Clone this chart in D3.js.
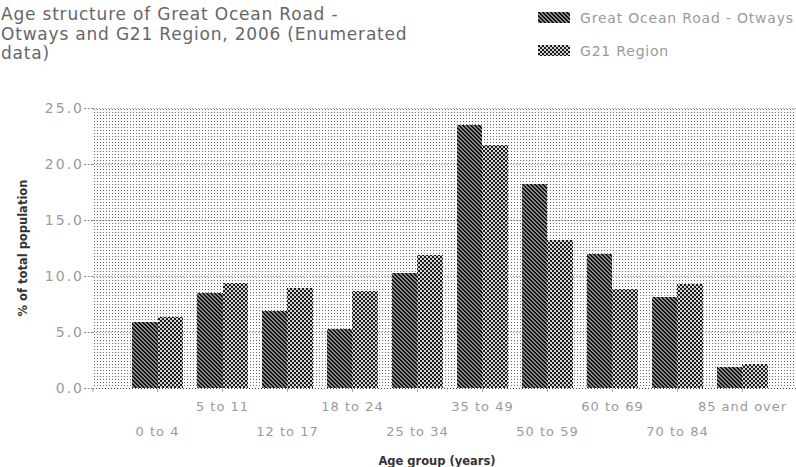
<!DOCTYPE html>
<html>
<head>
<meta charset="utf-8">
<script src="https://cdn.jsdelivr.net/npm/d3@7"></script>
<style>
  html, body { margin: 0; padding: 0; background: #fff; }
  svg { display: block; }
  text { font-family: "DejaVu Sans", Verdana, sans-serif; }
</style>
</head>
<body>
<svg id="chart" width="796" height="467"></svg>
<script>
// Age groups (x categories) and the share of total population in each
const categories = ["0 to 4", "5 to 11", "12 to 17", "18 to 24", "25 to 34",
                    "35 to 49", "50 to 59", "60 to 69", "70 to 84", "85 and over"];
const otways = [5.9, 8.5, 6.9, 5.3, 10.3, 23.5, 18.2, 12.0, 8.1, 1.9];
const g21    = [6.3, 9.4, 8.9, 8.7, 11.9, 21.7, 13.2, 8.8, 9.3, 2.1];
const seriesNames = ["Great Ocean Road - Otways", "G21 Region"];
const yTicks = [0, 5, 10, 15, 20, 25];
const titleLines = ["Age structure of Great Ocean Road -",
                    "Otways and G21 Region, 2006 (Enumerated",
                    "data)"];

const svg = d3.select("#chart");
const defs = svg.append("defs");

// Halftone-style fills
const bgPat = defs.append("pattern").attr("id", "bgDots")
  .attr("patternUnits", "userSpaceOnUse").attr("width", 3).attr("height", 3);
bgPat.append("rect").attr("width", 3).attr("height", 3).attr("fill", "#fbfbfb");
bgPat.append("rect").attr("x", 1).attr("y", 1).attr("width", 1).attr("height", 1).attr("fill", "#6a6a6a");

const hatch = defs.append("pattern").attr("id", "hatch")
  .attr("patternUnits", "userSpaceOnUse").attr("width", 4).attr("height", 4);
hatch.append("rect").attr("width", 4).attr("height", 4).attr("fill", "#8c8c8c");
[[0,0],[1,1],[2,2],[3,3],[1,0],[2,1],[3,2],[0,3]].forEach(([x, y]) =>
  hatch.append("rect").attr("x", x).attr("y", y).attr("width", 1).attr("height", 1).attr("fill", "#111"));

const checker = defs.append("pattern").attr("id", "checker")
  .attr("patternUnits", "userSpaceOnUse").attr("width", 4).attr("height", 4);
checker.append("rect").attr("width", 4).attr("height", 4).attr("fill", "#d6d6d6");
checker.append("rect").attr("x", 0).attr("y", 0).attr("width", 2).attr("height", 2).attr("fill", "#1a1a1a");
checker.append("rect").attr("x", 2).attr("y", 2).attr("width", 2).attr("height", 2).attr("fill", "#1a1a1a");

const fills = ["url(#hatch)", "url(#checker)"];

// Plot geometry
const plot = { left: 93, right: 796, top: 108, bottom: 388 };

const x = d3.scaleBand()
  .domain(categories)
  .range([125, 775])
  .paddingInner(0.215)
  .paddingOuter(0.1075);
const xSub = d3.scaleBand()
  .domain([0, 1])
  .range([0, x.bandwidth()]);
const y = d3.scaleLinear().domain([0, 25]).range([plot.bottom, plot.top]);

// Plot background
svg.append("rect")
  .attr("x", plot.left).attr("y", plot.top)
  .attr("width", plot.right - plot.left).attr("height", plot.bottom - plot.top)
  .attr("fill", "url(#bgDots)");

// Dotted gridlines
svg.append("g").selectAll("line")
  .data(yTicks)
  .join("line")
  .attr("x1", plot.left).attr("x2", plot.right)
  .attr("y1", d => y(d) + 0.5).attr("y2", d => y(d) + 0.5)
  .attr("stroke", "#444").attr("stroke-width", 1)
  .attr("stroke-dasharray", "1,2")
  .attr("opacity", d => d === 0 ? 1 : 0.55);

// Bars
const groups = svg.append("g").selectAll("g")
  .data(categories)
  .join("g")
  .attr("transform", d => `translate(${x(d)},0)`);

groups.selectAll("rect")
  .data((d, i) => [otways[i], g21[i]])
  .join("rect")
  .attr("x", (d, j) => xSub(j))
  .attr("width", xSub.bandwidth())
  .attr("y", d => y(d))
  .attr("height", d => y(0) - y(d))
  .attr("fill", (d, j) => fills[j])
  .attr("shape-rendering", "crispEdges");

// Y axis
const yAxis = d3.axisLeft(y)
  .tickValues(yTicks)
  .tickFormat(d3.format(".1f"))
  .tickSize(9)
  .tickPadding(0);
const yg = svg.append("g")
  .attr("transform", `translate(${plot.left},0)`)
  .call(yAxis);
yg.select(".domain").remove();
yg.selectAll(".tick line").attr("stroke", "#888").attr("stroke-dasharray", "2,1.5");
yg.selectAll(".tick text")
  .attr("fill", "#9a9a9a")
  .style("font-size", "14px")
  .style("letter-spacing", "2px")
  .style("font-family", "\"DejaVu Sans\", sans-serif");

// X axis with staggered labels
const xAxis = d3.axisBottom(x).tickSize(4).tickPadding(0);
const xg = svg.append("g")
  .attr("transform", `translate(0,${plot.bottom})`)
  .call(xAxis);
xg.select(".domain").remove();
xg.selectAll(".tick line").attr("stroke", "#aaa");
xg.selectAll(".tick text")
  .attr("fill", "#9a9a9a")
  .attr("dy", null)
  .attr("y", (d, i) => i % 2 === 0 ? 48 : 23)
  .style("font-size", "13px")
  .style("letter-spacing", "1px")
  .style("font-family", "\"DejaVu Sans\", sans-serif");
// extra tick at the left edge of the plot
xg.append("line")
  .attr("x1", plot.left).attr("x2", plot.left)
  .attr("y1", 0).attr("y2", 4)
  .attr("stroke", "#aaa");

// Axis titles
svg.append("text")
  .attr("x", 437).attr("y", 465)
  .attr("text-anchor", "middle")
  .attr("fill", "#333")
  .style("font-size", "11.5px")
  .style("font-weight", "bold")
  .text("Age group (years)");

svg.append("text")
  .attr("transform", `translate(27,${(plot.top + plot.bottom) / 2}) rotate(-90)`)
  .attr("text-anchor", "middle")
  .attr("fill", "#333")
  .style("font-size", "11.5px")
  .style("font-weight", "bold")
  .text("% of total population");

// Title
svg.append("g").selectAll("text")
  .data(titleLines)
  .join("text")
  .attr("x", 1)
  .attr("y", (d, i) => 20 + i * 19.5)
  .attr("fill", "#666")
  .style("font-size", "17px")
  .style("letter-spacing", "0.8px")
  .text(d => d);

// Legend
const legend = svg.append("g").selectAll("g")
  .data(seriesNames)
  .join("g")
  .attr("transform", (d, i) => `translate(538,${12 + i * 33})`);
legend.append("rect")
  .attr("width", 32).attr("height", 11)
  .attr("fill", (d, i) => fills[i])
  .attr("shape-rendering", "crispEdges");
legend.append("text")
  .attr("x", 42).attr("y", 10.5)
  .attr("fill", "#9a9a9a")
  .style("font-size", "14px")
  .style("letter-spacing", "0.8px")
  .text(d => d);
</script>
</body>
</html>
